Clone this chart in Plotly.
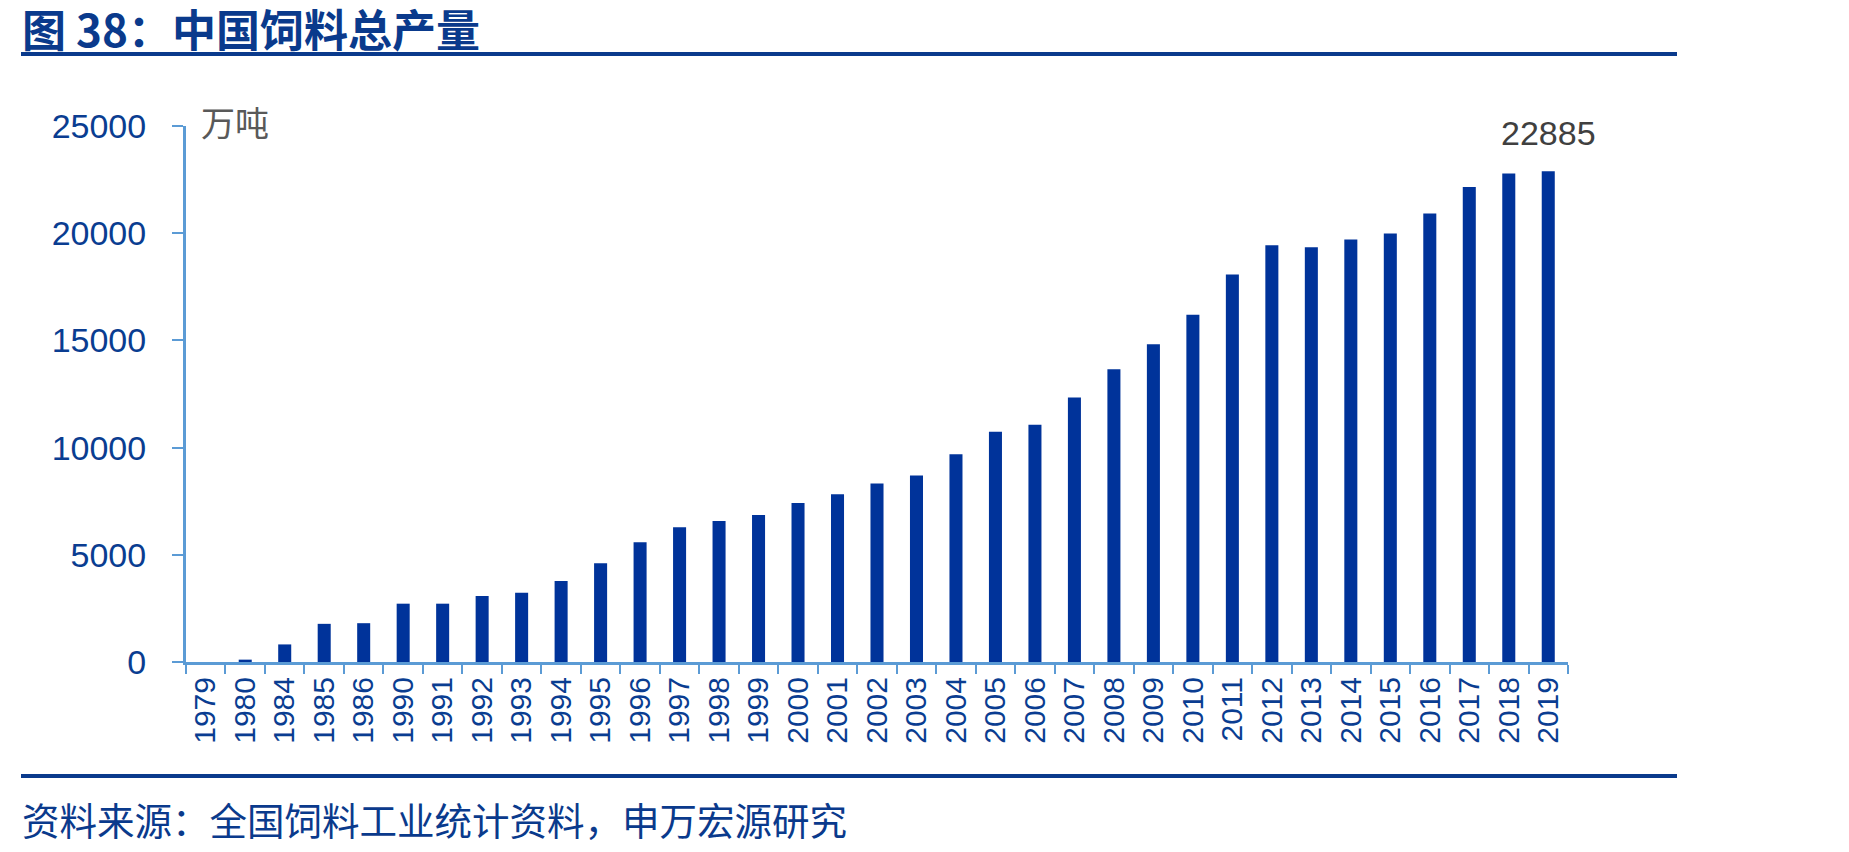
import plotly.graph_objects as go

years = ["1979", "1980", "1984", "1985", "1986", "1990", "1991", "1992", "1993", "1994",
         "1995", "1996", "1997", "1998", "1999", "2000", "2001", "2002", "2003", "2004",
         "2005", "2006", "2007", "2008", "2009", "2010", "2011", "2012", "2013", "2014",
         "2015", "2016", "2017", "2018", "2019"]
output = [0, 110, 820, 1780, 1810, 2720, 2720, 3080, 3235, 3780,
          4610, 5590, 6290, 6580, 6860, 7420, 7820, 8320, 8700, 9690,
          10740, 11070, 12340, 13660, 14820, 16200, 18070, 19440, 19340, 19710,
          19990, 20920, 22160, 22780, 22885]
yticks = [0, 5000, 10000, 15000, 20000, 25000]

W, H = 1849, 852
L, R, T, B = 186, 281, 126, 190
pw, ph = W - L - R, H - T - B

def px(x):
    return (x - L) / pw

def py(y):
    return (H - B - y) / ph

BLUE = "#00339A"
TXT = "#0A3D91"
AX = "#5B9BD5"
LINE = "#0A3A8C"

fig = go.Figure(go.Bar(x=years, y=output, marker=dict(color=BLUE, line=dict(width=0))))

fig.update_layout(
    width=W, height=H,
    margin=dict(l=L, r=R, t=T, b=B),
    paper_bgcolor="white", plot_bgcolor="white",
    bargap=0.67, showlegend=False,
    font=dict(family="Liberation Sans, Arial, Noto Sans CJK SC", color=TXT),
)
fig.update_xaxes(
    type="category", range=[-0.5, len(years) - 0.5],
    tickangle=-90, tickfont=dict(size=30, color=TXT),
    showline=True, linecolor=AX, linewidth=3,
    ticks="outside", tickson="boundaries", ticklen=9, tickcolor=AX, tickwidth=2,
    showgrid=False, zeroline=False,
)
fig.update_yaxes(
    range=[0, 25000], tickvals=yticks, ticktext=[str(v) for v in yticks],
    tickfont=dict(size=34, color=TXT),
    showline=True, linecolor=AX, linewidth=3,
    ticks="outside", ticklen=11, tickcolor=AX, tickwidth=2,
    ticklabelstandoff=19,
    showgrid=False, zeroline=False,
)

shapes = []
for yline in (54, 776):
    shapes.append(dict(type="line", xref="paper", yref="paper",
                       x0=px(21), x1=px(1677), y0=py(yline), y1=py(yline),
                       line=dict(color=LINE, width=4)))
fig.update_layout(shapes=shapes)

ann = [
    dict(text="<b>图 38：中国饲料总产量</b>", xref="paper", yref="paper",
         x=px(20), y=py(28), xanchor="left", yanchor="middle", showarrow=False,
         font=dict(family="Noto Sans CJK SC", size=44, color=LINE)),
    dict(text="万吨", xref="paper", yref="paper",
         x=px(199), y=py(121), xanchor="left", yanchor="middle", showarrow=False,
         font=dict(family="Noto Sans CJK SC", size=34, color="#595959")),
    dict(text="资料来源：全国饲料工业统计资料，申万宏源研究", xref="paper", yref="paper",
         x=px(20), y=py(818), xanchor="left", yanchor="middle", showarrow=False,
         font=dict(family="Noto Sans CJK SC", size=37.5, color=LINE)),
    dict(text=str(output[-1]), x=len(years) - 1, y=output[-1], xref="x", yref="y",
         xanchor="center", yanchor="bottom", yshift=17, showarrow=False,
         font=dict(family="Liberation Sans, Arial", size=34, color="#404040")),
]
fig.update_layout(annotations=ann)

fig.write_html("out.html")
